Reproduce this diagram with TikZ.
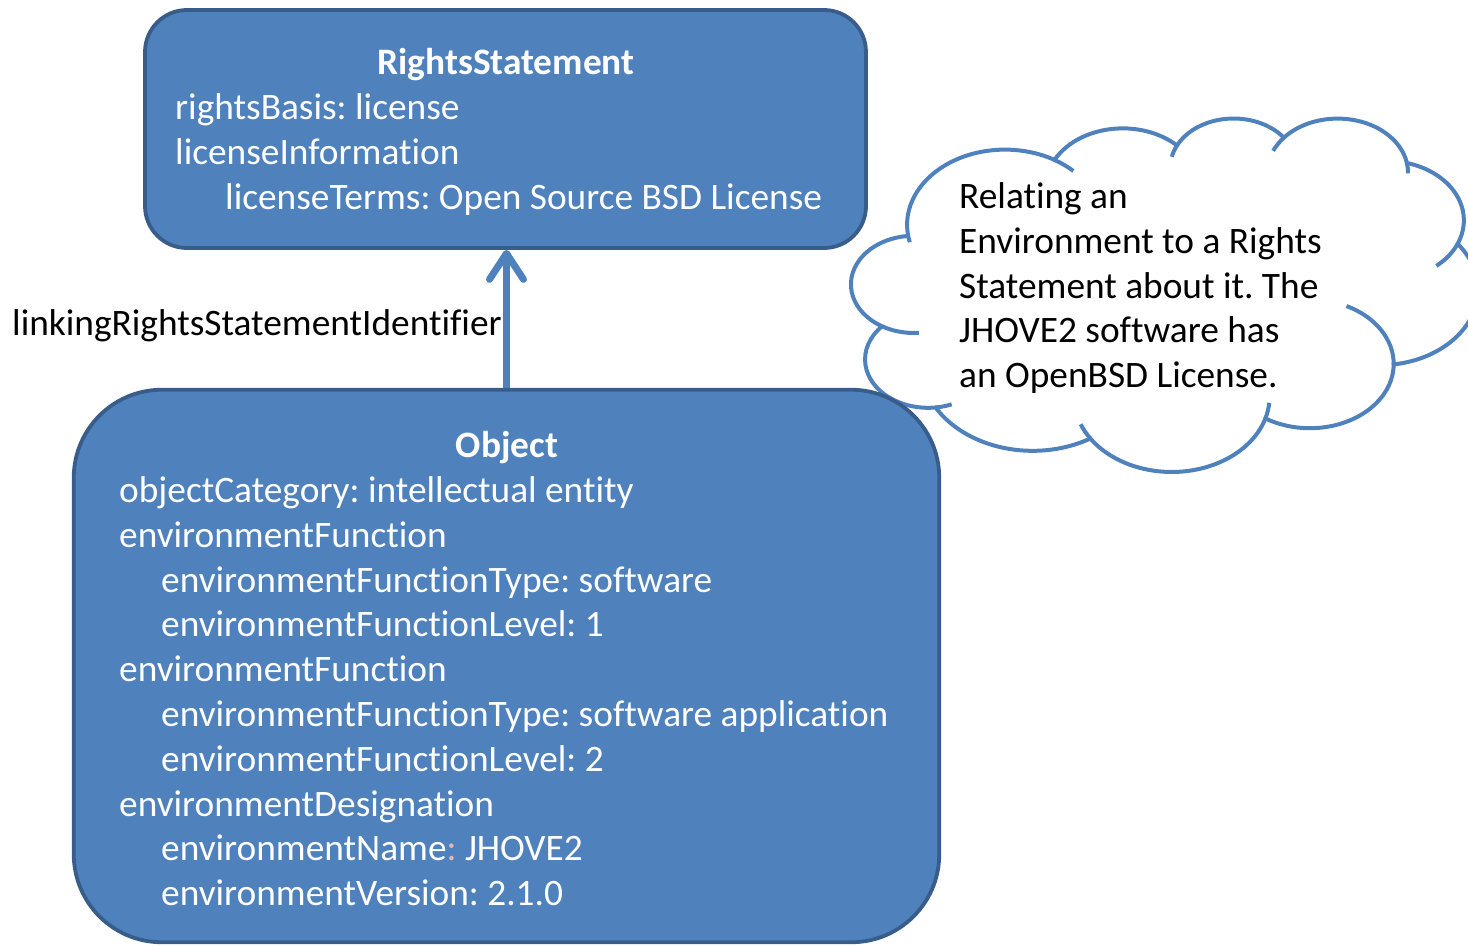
\documentclass[tikz,border=0pt]{standalone}
\usepackage{fontspec}
\setmainfont{Carlito}[Ligatures=NoCommon]
\usetikzlibrary{arrows.meta}
\definecolor{boxfill}{RGB}{79,129,189}
\definecolor{boxline}{RGB}{56,93,138}
\definecolor{pinkcolon}{RGB}{228,182,182}
\pgfmathdeclarefunction{pang}{3}{%
  \begingroup
  \pgfmathparse{atan2((#2)*sin(#1),(#3)*cos(#1))}%
  \let\cldt\pgfmathresult
  \pgfmathparse{-(\cldt+360*round(((#1)-\cldt)/360))}%
  \pgfmathsmuggle\pgfmathresult
  \endgroup}
\def\csx{0.01449074}
\def\csy{0.0081713}
\tikzset{
  ca/.style n args={4}{x radius={(#1)*\csx*1pt}, y radius={(#2)*\csy*1pt},
    start angle={pang(#3,#1,#2)}, end angle={pang((#3)+(#4),#1,#2)}},
  cloudstroke/.style={draw=boxfill, line width=4pt},
  box/.style={draw=boxline, fill=boxfill, line width=3.8pt, inner sep=0pt},
  txt/.style={anchor=base west, inner sep=0pt, font=\fontsize{37.35}{45}\selectfont\frenchspacing},
  wtxt/.style={txt, text=white},
  ttl/.style={anchor=base, inner sep=0pt, text=white, font=\fontsize{37.35}{45}\selectfont\bfseries},
  link/.style={draw=boxfill, line width=7pt, -{Straight Barb[length=26pt,width=34pt,round]}}
}
\begin{document}
\frenchspacing
\begin{tikzpicture}[x=1pt,y=-1pt]
\useasboundingbox (0,0) rectangle (1468,947);
% cloud
\draw[cloudstroke] (908.0,234.9) coordinate (J0)
  arc[ca={6753}{9190}{-190.487483}{123.780533}] coordinate (J1)
  arc[ca={5333}{7267}{-144.102383}{89.945233}] coordinate (J2)
  arc[ca={4365}{5945}{-145.807917}{99.723017}] coordinate (J3)
  arc[ca={4857}{6595}{-130.986067}{117.241733}] coordinate (J4)
  arc[ca={5333}{7273}{-78.708883}{109.026917}] coordinate (J5)
  arc[ca={6775}{9220}{-46.26725}{130.269}] coordinate (J6)
  arc[ca={5785}{7867}{0.625017}{114.033333}] coordinate (J7)
  arc[ca={6752}{9215}{22.4516}{115.17255}] coordinate (J8)
  arc[ca={7720}{10543}{66.242633}{75.711017}] coordinate (J9)
  arc[ca={4360}{5918}{-274.942083}{146.735567}] coordinate (J10)
  arc[ca={4345}{5945}{-246.8285}{152.51885}] -- cycle;
\draw[cloudstroke] (J0) arc[ca={6753}{9190}{-190.487483}{-7.4725}];
\draw[cloudstroke] (J1) arc[ca={6753}{9190}{-66.70695}{12.3195}];
\draw[cloudstroke] (J2) arc[ca={4365}{5945}{-145.807917}{-17.6864}];
\draw[cloudstroke] (J3) arc[ca={4857}{6595}{-130.986067}{-18.1903}];
\draw[cloudstroke] (J4) arc[ca={4857}{6595}{-13.744334}{14.8488}];
\draw[cloudstroke] (J5) arc[ca={5333}{7273}{30.318034}{28}];
\draw[cloudstroke] (J6) arc[ca={5785}{7867}{0.625017}{-70.9174}];
\draw[cloudstroke] (J7) arc[ca={6752}{9215}{22.4516}{-15.9983}];
\draw[cloudstroke] (J8) arc[ca={6752}{9215}{137.62415}{14.0811}];
\draw[cloudstroke] (J9) arc[ca={4360}{5918}{-274.942083}{-11.4475}];
\draw[cloudstroke] (J10) arc[ca={4345}{5945}{-246.8285}{-26.4295}];
\node[txt] (c1) at (959,208) {Relating an};
\node[txt] (c2) at (959,253) {Environment to a Rights};
\node[txt] (c3) at (959,298) {Statement about it. The};
\node[txt] (c4) at (959,342) {JHOVE2 software has};
\node[txt] (c5) at (959,387) {an OpenBSD License.};
% boxes
\node[box, minimum width=721pt, minimum height=238pt, rounded corners=42pt] (rs) at (505.5,129) {};
\node[box, minimum width=865.5pt, minimum height=552.5pt, rounded corners=88pt] (obj) at (506.5,666) {};
% connector
\draw[link] (obj.north) -- (obj.north |- rs.south);
\node[txt] (lbl) at (12,335) {linkingRightsStatementIdentifier};
% RightsStatement text
\node[ttl] (rst) at (506,75) {RightsStatement};
\node[wtxt] (r1) at (175,120) {rightsBasis: license};
\node[wtxt] (r2) at (175,165) {licenseInformation};
\node[wtxt] (r3) at (225,210) {licenseTerms: Open Source BSD License};
% Object text
\node[ttl] (ot) at (507,457) {Object};
\node[wtxt] (o1) at (119,502) {objectCategory: intellectual entity};
\node[wtxt] (o2) at (119,547) {environmentFunction};
\node[wtxt] (o3) at (161,592) {environmentFunctionType: software};
\node[wtxt] (o4) at (161,636) {environmentFunctionLevel: 1};
\node[wtxt] (o5) at (119,681) {environmentFunction};
\node[wtxt] (o6) at (161,726) {environmentFunctionType: software application};
\node[wtxt] (o7) at (161,771) {environmentFunctionLevel: 2};
\node[wtxt] (o8) at (119,816) {environmentDesignation};
\node[wtxt] (o9) at (161,860) {environmentName\textcolor{pinkcolon}{:} JHOVE2};
\node[wtxt] (o10) at (161,905) {environmentVersion: 2.1.0};
\end{tikzpicture}
\end{document}
